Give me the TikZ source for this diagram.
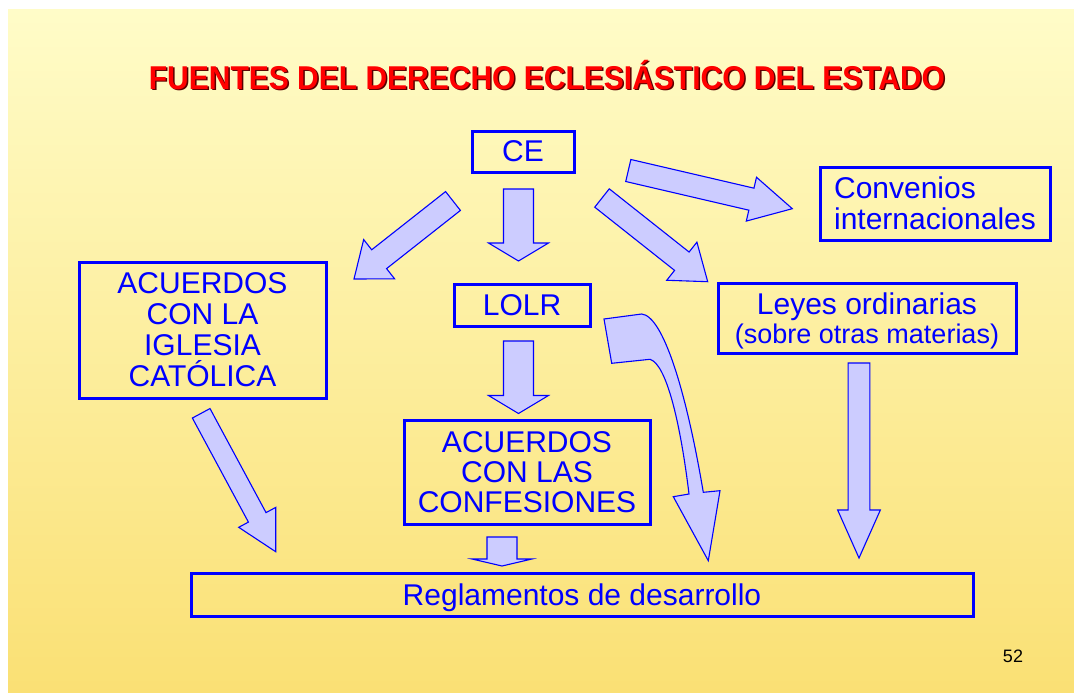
\documentclass[tikz,border=0pt]{standalone}
\usepackage{fontspec}
\setmainfont{Liberation Sans}
\usetikzlibrary{calc}
\definecolor{arrfill}{RGB}{204,204,255}
\definecolor{bgtop}{RGB}{255,252,200}
\definecolor{bgbot}{RGB}{250,224,116}
\definecolor{shadowred}{RGB}{90,0,0}
\tikzset{
  box/.style={draw=blue, line width=3pt, text=blue, align=center, inner sep=0pt,
    font=\fontsize{30}{31}\selectfont},
  barrowstyle/.style={draw=blue, fill=arrfill, line width=1.1pt, line join=miter},
  titlefont/.style={font=\fontsize{30}{36}\selectfont\bfseries},
}
\newcommand\blockarrow[5]{%
  \coordinate (#1h) at ($(#2)!#5pt!(#1)$);
  \draw[barrowstyle] ($(#1)!#3pt/2!90:(#2)$) -- ($(#1h)!#3pt/2!90:(#2)$)
    -- ($(#1h)!#4pt/2!90:(#2)$) -- (#2) -- ($(#1h)!#4pt/2!-90:(#2)$)
    -- ($(#1h)!#3pt/2!-90:(#2)$) -- ($(#1)!#3pt/2!-90:(#2)$) -- cycle;
}
\newcommand\titletext{\scalebox{1}[1.1]{FUENTES DEL DERECHO ECLESIÁSTICO DEL ESTADO}}
\begin{document}
\begin{tikzpicture}[x=1pt,y=-1pt]
\useasboundingbox (0,0) rectangle (1074,693);
\fill[white] (0,0) rectangle (1074,693);
\shade[top color=bgtop, bottom color=bgbot] (8,10) rectangle (1074,693);

% title
\node[titlefont, text=shadowred] (titleshadow) at (548.5,76.5) {\titletext};
\node[titlefont, text=red] (title) at (547,75) {\titletext};

% boxes
\node[box, minimum width=102pt, minimum height=41pt] (ce) at (523,151.5) {CE};
\node[box, minimum width=230pt, minimum height=73pt, align=left] (conv) at (935,203.5) {Convenios\\internacionales};
\node[box, minimum width=247pt, minimum height=136pt] (igl) at (202.5,330) {ACUERDOS\\CON LA\\IGLESIA\\CATÓLICA};
\node[box, minimum width=136pt, minimum height=42pt] (lolr) at (522,305) {LOLR};
\node[box, minimum width=298pt, minimum height=70pt, text depth=0pt] (leyes) at (867,318) {Leyes ordinarias\\[-2pt]{\fontsize{27}{28}\selectfont (sobre otras materias)}};
\node[box, minimum width=246pt, minimum height=104pt, font=\fontsize{30}{30}\selectfont] (conf) at (527,472) {ACUERDOS\\CON LAS\\CONFESIONES};
\node[box, minimum width=782pt, minimum height=43pt, text depth=0pt] (regl) at (582,594.5) {Reglamentos de desarrollo};

\node[font=\fontsize{18}{20}\selectfont] (pagenum) at (1013,656) {52};

% straight block arrows
\coordinate (a1t) at (453,201);   \coordinate (a1p) at (354,279);
\coordinate (a2t) at (518.5,189); \coordinate (a2p) at (518.5,261);
\coordinate (a3t) at (602,198);   \coordinate (a3p) at (707.7,281.7);
\coordinate (a4t) at (628.3,170.5); \coordinate (a4p) at (792.3,208.7);
\coordinate (a5t) at (518.5,341); \coordinate (a5p) at (518.5,413.5);
\coordinate (a6t) at (502,537);   \coordinate (a6p) at (502,566);
\coordinate (a7t) at (201.2,413.3); \coordinate (a7p) at (275.7,551.7);
\coordinate (a8t) at (859,363);   \coordinate (a8p) at (859,558);
\blockarrow{a1t}{a1p}{24}{50}{32}
\blockarrow{a2t}{a2p}{30}{60}{18}
\blockarrow{a3t}{a3p}{23.4}{48.6}{33}
\blockarrow{a4t}{a4p}{22.6}{45}{42}
\blockarrow{a5t}{a5p}{30}{60}{18}
\blockarrow{a6t}{a6p}{30}{60}{7}
\blockarrow{a7t}{a7p}{20}{42}{39}
\blockarrow{a8t}{a8p}{21.7}{42.7}{48}

% curved block arrow from LOLR to Reglamentos
\coordinate (c1) at (604,319);
\coordinate (c2) at (641.7,314);
\coordinate (c3) at (703.3,492.3);
\coordinate (c4) at (720,490.7);
\coordinate (c5) at (708.3,560.7);
\coordinate (c6) at (673.3,496.7);
\coordinate (c7) at (689,494);
\coordinate (c8) at (650,359.3);
\coordinate (c9) at (611.7,363.3);
\draw[barrowstyle] (c1) -- (c2) .. controls (663,316) and (686,390) .. (c3)
  -- (c4) -- (c5) -- (c6) -- (c7) .. controls (680,420) and (666,364) .. (c8)
  -- (c9) -- cycle;
\end{tikzpicture}
\end{document}
